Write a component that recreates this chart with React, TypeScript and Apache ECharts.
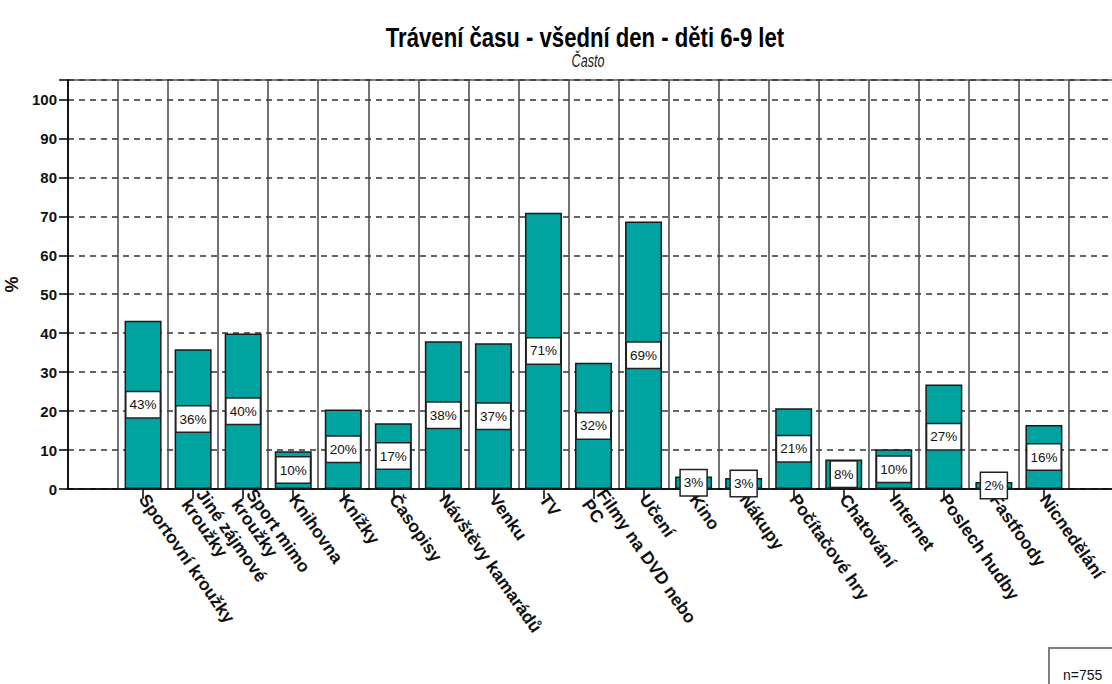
import React, { useEffect, useRef } from 'react';
import * as echarts from 'echarts';

const categories: string[] = [
  '',
  'Sportovní kroužky',
  'Jiné zájmové\nkroužky',
  'Sport mimo\nkroužky',
  'Knihovna',
  'Knížky',
  'Časopisy',
  'Návštěvy kamarádů',
  'Venku',
  'TV',
  'Filmy na DVD nebo\nPC',
  'Učení',
  'Kino',
  'Nákupy',
  'Počítačové hry',
  'Chatování',
  'Internet',
  'Poslech hudby',
  'Fastfoody',
  'Nicnedělání',
  '',
];

const values: (number | null)[] = [
  null, 43.2, 35.9, 39.9, 9.7, 20.4, 16.9, 37.9, 37.4, 70.9, 32.4, 68.7,
  3.2, 2.8, 20.7, 7.6, 10.2, 26.8, 1.8, 16.4, null,
];

const titleText = 'Trávení času - všední den - děti 6-9 let';
const subtitleText = 'Často';
const sampleText = 'n=755';

export default function App() {
  const ref = useRef<HTMLDivElement>(null);
  useEffect(() => {
    const chart = echarts.init(ref.current!, null, { renderer: 'svg' });
    chart.setOption({
      animation: false,
      backgroundColor: '#ffffff',
      grid: {
        left: 68,
        top: 80,
        right: -7,
        bottom: 195,
        outerBoundsMode: 'none',
        containLabel: false,
        show: true,
        borderColor: '#808080',
        borderWidth: 2,
        backgroundColor: 'transparent',
      },
      xAxis: {
        type: 'category',
        data: categories,
        boundaryGap: true,
        axisLine: { show: true, lineStyle: { color: '#000', width: 1.5 } },
        axisTick: {
          show: true,
          alignWithLabel: true,
          length: 10,
          interval: (i: number, v: string) => v !== '',
          lineStyle: { color: '#000', width: 1.5 },
        },
        axisLabel: {
          interval: 0,
          rotate: -55,
          margin: 7,
          fontFamily: 'Liberation Sans, Arial, sans-serif',
          fontWeight: 'bold',
          fontSize: 17.5,
          lineHeight: 18,
          color: '#111',
        },
        splitLine: {
          show: true,
          interval: 0,
          lineStyle: { color: '#444', width: 1.5 },
        },
      },
      yAxis: {
        type: 'value',
        min: 0,
        max: 105,
        interval: 10,
        name: '%',
        nameLocation: 'middle',
        nameRotate: 90,
        nameGap: 39,
        nameTextStyle: {
          fontFamily: 'Liberation Sans, Arial, sans-serif',
          fontWeight: 'bold',
          fontSize: 18,
          color: '#111',
        },
        axisLine: { show: true, lineStyle: { color: '#000', width: 1.5 } },
        axisTick: { show: true, length: 9, lineStyle: { color: '#000', width: 1.5 } },
        axisLabel: {
          margin: 11,
          formatter: (v: number) => (v % 10 === 0 ? String(v) : ''),
          fontFamily: "'Liberation Sans Narrow', 'Liberation Sans', Arial, sans-serif",
          fontWeight: 'bold',
          fontSize: 15,
          color: '#111',
        },
        splitLine: {
          show: true,
          lineStyle: { color: '#333', width: 1.6, type: [6, 5] },
        },
      },
      series: [
        {
          type: 'bar',
          data: values,
          barWidth: 37,
          itemStyle: { color: '#00A3A0', borderColor: '#1a1a1a', borderWidth: 1.5 },
          label: {
            show: true,
            position: 'inside',
            formatter: (p: any) => Math.round(p.value) + '%',
            backgroundColor: '#fff',
            borderColor: '#222',
            borderWidth: 1.5,
            padding: [6, 3, 5, 3],
            fontFamily: 'Liberation Sans, Arial, sans-serif',
            fontSize: 13.5,
            color: '#111',
          },
        },
      ],
      graphic: [
        {
          type: 'text',
          x: 585,
          y: 38,
          scaleX: 0.82,
          style: {
            text: titleText,
            textAlign: 'center',
            textVerticalAlign: 'middle',
            font: 'bold 27px "Liberation Sans", Arial, sans-serif',
            fill: '#000',
          },
        },
        {
          type: 'text',
          x: 588,
          y: 61,
          scaleX: 0.7,
          style: {
            text: subtitleText,
            textAlign: 'center',
            textVerticalAlign: 'middle',
            font: 'italic 18px "Liberation Sans", Arial, sans-serif',
            fill: '#222',
          },
        },
        {
          type: 'rect',
          shape: { x: 1049, y: 648, width: 80, height: 60 },
          style: { fill: '#fff', stroke: '#808080', lineWidth: 2 },
        },
        {
          type: 'text',
          x: 1063,
          y: 675,
          style: {
            text: sampleText,
            textAlign: 'left',
            textVerticalAlign: 'middle',
            font: '14px "Liberation Sans", Arial, sans-serif',
            fill: '#111',
          },
        },
      ],
    });
    return () => chart.dispose();
  }, []);
  return (
    <div
      ref={ref}
      style={{ position: 'fixed', left: 0, top: 0, width: 1112, height: 684, background: '#fff' }}
    />
  );
}
